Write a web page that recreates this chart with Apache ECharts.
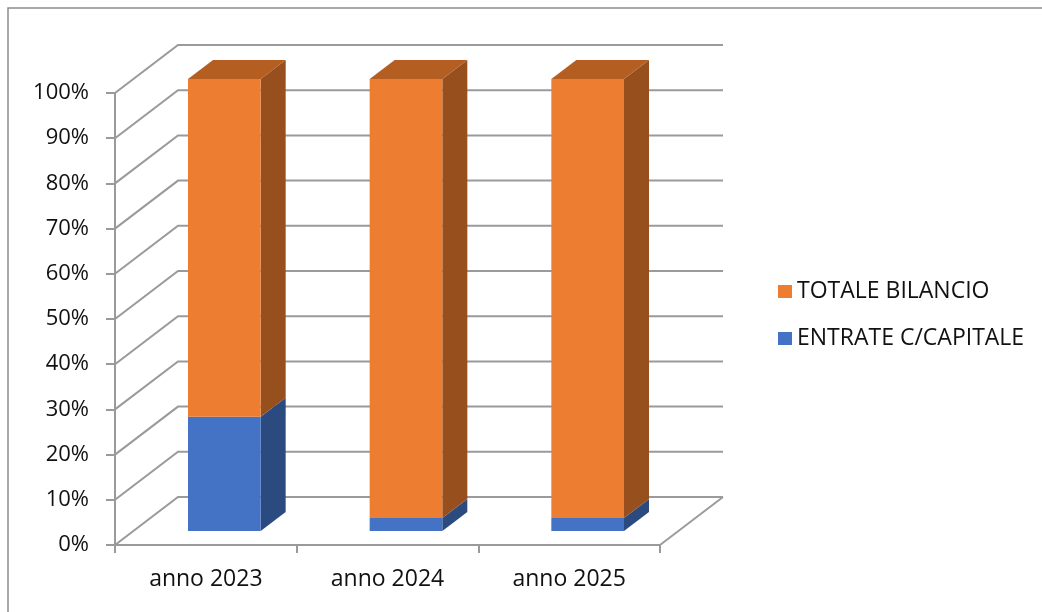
<!DOCTYPE html>
<html>
<head>
<meta charset="utf-8">
<script src="https://cdn.jsdelivr.net/npm/echarts@6.0.0/dist/echarts.min.js"></script>
<style>
    html, body { margin: 0; padding: 0; background: #fff; }
    #chart { width: 1042px; height: 612px; }
</style>
</head>
<body>
<div id="chart"></div>
<script>
    // dati (percentuali, colonne in pila al 100%)
    var categorie = ['anno 2023', 'anno 2024', 'anno 2025'];
    var entrateCapitale = [25.3, 2.9, 2.9];
    var totaleBilancio = [74.7, 97.1, 97.1];
    var tickY = [0, 10, 20, 30, 40, 50, 60, 70, 80, 90, 100];

    var grigio = '#9a9a9a';
    var font = 'Open Sans';
    // profondita' della scatola 3D
    var DX = 63, DY = -48;

    // pareti: diagonale laterale + linea sulla parete di fondo
    function renderParete(params, api) {
        var cs = params.coordSys;
        var v = api.value(1);
        var y = api.coord([0, v])[1];
        var x0 = cs.x, x1 = cs.x + cs.width;
        var st = { stroke: grigio, lineWidth: 2, fill: null };
        var children = [{
            type: 'polyline',
            shape: { points: [[x0, y], [x0 + DX, y + DY], [x1 + DX, y + DY]] },
            style: st
        }];
        if (v === 0) {
            children.push({
                type: 'line',
                shape: { x1: x1, y1: y, x2: x1 + DX, y2: y + DY },
                style: st
            });
        }
        return { type: 'group', children: children };
    }

    // colonna 3D: faccia frontale, lato destro, tetto
    function makeBarra(front, side, top, conTetto) {
        return function (params, api) {
            var i = api.value(0);
            var p0 = api.coord([i, api.value(1)]);
            var p1 = api.coord([i, api.value(2)]);
            var bw = api.size([1, 0])[0] * 0.4;
            var x0 = p0[0] - bw / 2 + 18.5, x1 = x0 + bw;
            var yb = p0[1] - 14, yt = p1[1] - 14;
            var dx = 25, dy = -19;
            var children = [
                {
                    type: 'polygon',
                    shape: { points: [[x1, yb], [x1 + dx, yb + dy], [x1 + dx, yt + dy], [x1, yt]] },
                    style: { fill: side }
                },
                {
                    type: 'rect',
                    shape: { x: x0, y: yt, width: bw, height: yb - yt },
                    style: { fill: front }
                }
            ];
            if (conTetto) {
                children.push({
                    type: 'polygon',
                    shape: { points: [[x0, yt], [x0 + dx, yt + dy], [x1 + dx, yt + dy], [x1, yt]] },
                    style: { fill: top }
                });
            }
            return { type: 'group', children: children };
        };
    }

    var datiEntrate = [], datiTotale = [];
    categorie.forEach(function (c, i) {
        datiEntrate.push([i, 0, entrateCapitale[i]]);
        datiTotale.push([i, entrateCapitale[i], entrateCapitale[i] + totaleBilancio[i]]);
    });

    var myChart = echarts.init(document.getElementById('chart'));
    myChart.setOption({
        animation: false,
        backgroundColor: '#fff',
        graphic: [{
            type: 'rect',
            shape: { x: 8, y: 8, width: 1100, height: 700 },
            style: { fill: null, stroke: '#8c8c8c', lineWidth: 1.5 },
            silent: true
        }],
        grid: {
            left: 115,
            top: 93,
            width: 545,
            height: 452,
            containLabel: false,
            outerBoundsMode: 'none'
        },
        legend: {
            orient: 'vertical',
            left: 773,
            top: 275,
            icon: 'rect',
            itemWidth: 14,
            itemHeight: 13,
            itemGap: 24,
            selectedMode: false,
            textStyle: { fontFamily: font, fontSize: 23, color: '#111', lineHeight: 23 },
            data: ['TOTALE BILANCIO', 'ENTRATE C/CAPITALE']
        },
        xAxis: {
            type: 'category',
            data: categorie,
            boundaryGap: true,
            axisLine: { lineStyle: { color: grigio, width: 2 } },
            axisTick: { show: true, alignWithLabel: false, length: 8, lineStyle: { color: grigio, width: 2 } },
            axisLabel: { fontFamily: font, fontSize: 23, color: '#111', margin: 23, interval: 0 },
            splitLine: { show: false }
        },
        yAxis: {
            type: 'value',
            min: 0,
            max: 100,
            interval: 10,
            axisLine: { show: true, lineStyle: { color: grigio, width: 2 } },
            axisTick: { show: true, length: 9, lineStyle: { color: grigio, width: 2 } },
            axisLabel: { fontFamily: font, fontSize: 22, color: '#111', margin: 26, formatter: '{value}%' },
            splitLine: { show: false }
        },
        series: [
            {
                name: 'pareti',
                type: 'custom',
                renderItem: renderParete,
                clip: false,
                silent: true,
                z: 1,
                encode: { x: 0, y: 1 },
                data: tickY.map(function (v) { return [0, v]; })
            },
            {
                name: 'ENTRATE C/CAPITALE',
                type: 'custom',
                renderItem: makeBarra('#4472C4', '#2B4A80', '#3660A8', false),
                clip: false,
                z: 2,
                itemStyle: { color: '#4472C4' },
                encode: { x: 0, y: [1, 2] },
                data: datiEntrate
            },
            {
                name: 'TOTALE BILANCIO',
                type: 'custom',
                renderItem: makeBarra('#ED7D31', '#984F1E', '#B45E22', true),
                clip: false,
                z: 3,
                itemStyle: { color: '#ED7D31' },
                encode: { x: 0, y: [1, 2] },
                data: datiTotale
            }
        ]
    });
</script>
</body>
</html>
